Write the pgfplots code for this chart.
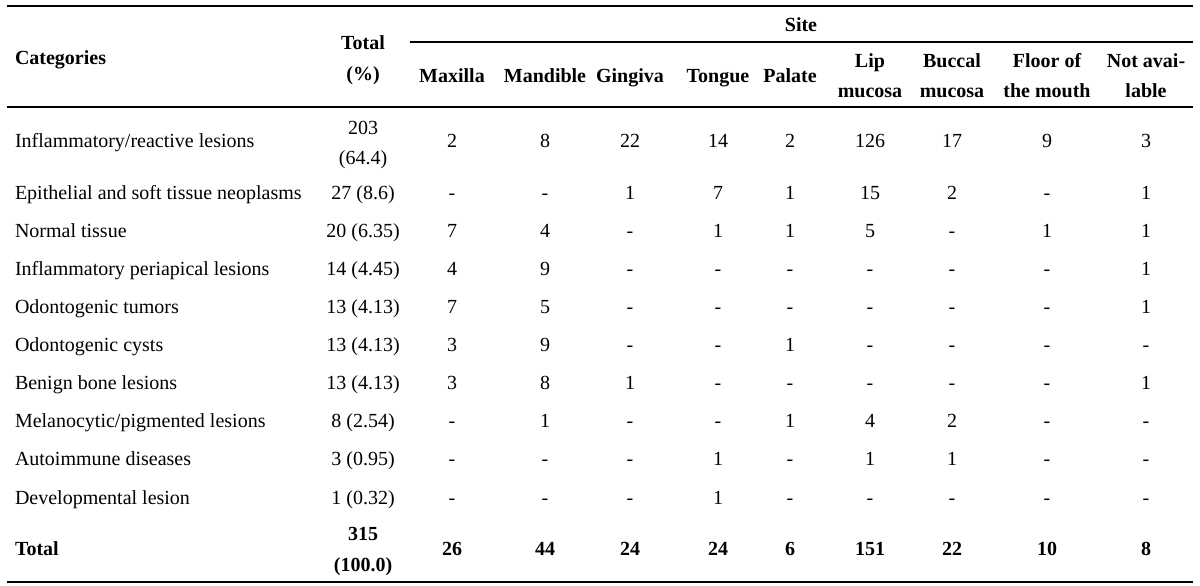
\documentclass[border=0pt]{standalone}
\usepackage{pgfplots}
\usepackage{pgfplotstable}
\usepackage{fontspec}
\setmainfont{Liberation Serif}
\pgfplotsset{compat=1.18}

% left column (categories), baselines in px from top
\pgfplotstableread[col sep=comma]{
yb,label
147,Inflammatory/reactive lesions
199,Epithelial and soft tissue neoplasms
237,Normal tissue
275,Inflammatory periapical lesions
313,Odontogenic tumors
351,Odontogenic cysts
389,Benign bone lesions
427,Melanocytic/pigmented lesions
465,Autoimmune diseases
504,Developmental lesion
}\cattbl

% Total (%) column
\pgfplotstableread[col sep=comma]{
yb,label
134,203
164,(64.4)
199,27 (8.6)
237,20 (6.35)
275,14 (4.45)
313,13 (4.13)
351,13 (4.13)
389,13 (4.13)
427,8 (2.54)
465,3 (0.95)
504,1 (0.32)
}\totaltbl

% counts by site
\pgfplotstableread{
yb  Maxilla Mandible Gingiva Tongue Palate Lip Buccal Floor NA
147 2 8 22 14 2 126 17 9 3
199 - - 1 7 1 15 2 - 1
237 7 4 - 1 1 5 - 1 1
275 4 9 - - - - - - 1
313 7 5 - - - - - - 1
351 3 9 - - 1 - - - -
389 3 8 1 - - - - - 1
427 - 1 - - 1 4 2 - -
465 - - - 1 - 1 1 - -
504 - - - 1 - - - - -
}\sitetbl

% header (bold, centred)
\pgfplotstableread[col sep=comma]{
x,yb,label
363,49,Total
363,80,(\%)
801,31,Site
452,82,Maxilla
545,82,Mandible
630,82,Gingiva
718,82,Tongue
790,82,Palate
870,67,Lip
870,97,mucosa
952,67,Buccal
952,97,mucosa
1047,67,Floor of
1047,97,the mouth
1146,67,Not avai-
1146,97,lable
363,540,315
363,571,(100.0)
452,555,26
545,555,44
630,555,24
718,555,24
790,555,6
870,555,151
952,555,22
1047,555,10
1146,555,8
}\boldtbl

% bold left labels
\pgfplotstableread[col sep=comma]{
x,yb,label
15,64,Categories
15,555,Total
}\boldlefttbl

\begin{document}
\begin{tikzpicture}
\begin{axis}[
  scale only axis, width=600pt, height=292.5pt,
  xmin=0, xmax=1200, ymin=0, ymax=585, y dir=reverse,
  axis lines=none, clip=false,
  cell/.style={draw=none, mark=none, nodes near coords,
    point meta=explicit symbolic,
    nodes near coords align={anchor=base},
    every node near coord/.append style={inner sep=0pt, outer sep=0pt,
      font=\fontsize{10}{12}\selectfont, text=black}},
  leftcell/.style={cell, nodes near coords align={anchor=base west}},
  rule/.style={black, line width=0.7pt, mark=none},
]
% invisible frame fixing the picture's extent
\addplot[draw=none, mark=none] coordinates {(0,0) (1200,585)};
% rules
\addplot[rule] coordinates {(7,6) (1193,6)};
\addplot[rule] coordinates {(410,42) (1193,42)};
\addplot[rule] coordinates {(7,107) (1193,107)};
\addplot[rule] coordinates {(7,582) (1193,582)};

% body text
\addplot[leftcell] table[x expr=15, y=yb, meta=label]{\cattbl};
\addplot[cell] table[x expr=363, y=yb, meta=label]{\totaltbl};
\addplot[cell] table[x expr=452, y=yb, meta=Maxilla]{\sitetbl};
\addplot[cell] table[x expr=545, y=yb, meta=Mandible]{\sitetbl};
\addplot[cell] table[x expr=630, y=yb, meta=Gingiva]{\sitetbl};
\addplot[cell] table[x expr=718, y=yb, meta=Tongue]{\sitetbl};
\addplot[cell] table[x expr=790, y=yb, meta=Palate]{\sitetbl};
\addplot[cell] table[x expr=870, y=yb, meta=Lip]{\sitetbl};
\addplot[cell] table[x expr=952, y=yb, meta=Buccal]{\sitetbl};
\addplot[cell] table[x expr=1047, y=yb, meta=Floor]{\sitetbl};
\addplot[cell] table[x expr=1146, y=yb, meta=NA]{\sitetbl};

% bold header and total row
\addplot[cell, every node near coord/.append style={font=\fontsize{10}{12}\selectfont\bfseries}]
  table[x=x, y=yb, meta=label]{\boldtbl};
\addplot[leftcell, every node near coord/.append style={font=\fontsize{10}{12}\selectfont\bfseries}]
  table[x=x, y=yb, meta=label]{\boldlefttbl};
\end{axis}
\end{tikzpicture}
\end{document}
